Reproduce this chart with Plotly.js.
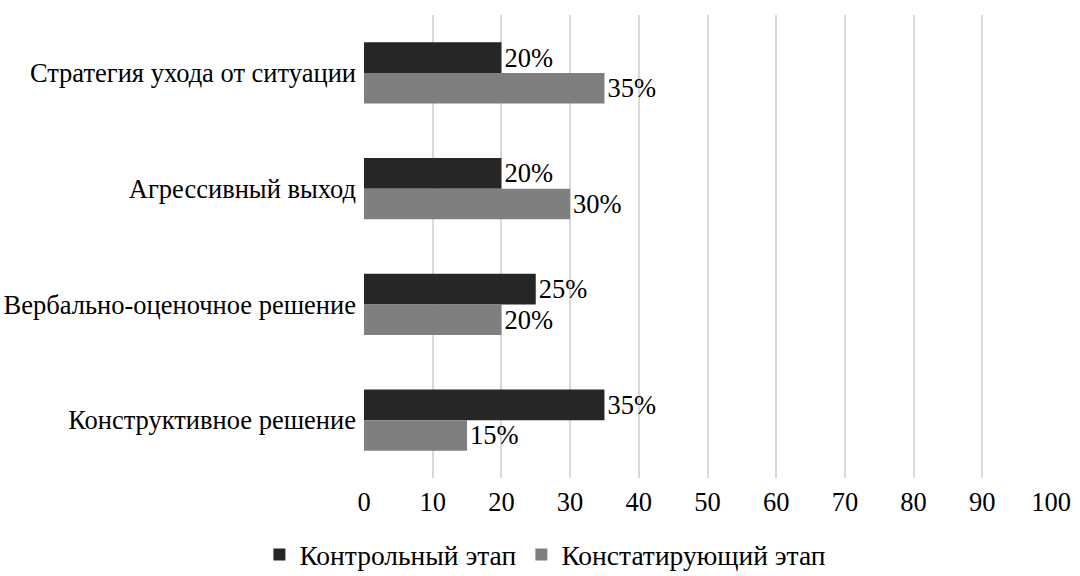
<!DOCTYPE html>
<html>
<head>
<meta charset="utf-8">
<script src="https://cdn.plot.ly/plotly-3.0.1.min.js"></script>
<style>html,body{margin:0;padding:0;background:#fff;}#chart{width:1080px;height:576px;}</style>
</head>
<body>
<div id="chart"></div>
<script>
const categories = ["Стратегия ухода от ситуации", "Агрессивный выход", "Вербально-оценочное решение", "Конструктивное решение"];
const seriesNames = ["Контрольный этап", "Констатирующий этап"];
const controlValues = [20, 20, 25, 35];
const statingValues = [35, 30, 20, 15];
const xTicks = [0, 10, 20, 30, 40, 50, 60, 70, 80, 90, 100];

function F(s) { return {family: "Liberation Serif", size: s || 26.5, color: "#000000"}; }

const traces = [
  {type: "bar", orientation: "h", name: seriesNames[0], y: categories, x: controlValues,
   marker: {color: "#262626"}, text: controlValues.map(v => v + "%"), textposition: "outside",
   textfont: F(), outsidetextfont: F(), cliponaxis: false, hoverinfo: "none"},
  {type: "bar", orientation: "h", name: seriesNames[1], y: categories, x: statingValues,
   marker: {color: "#7f7f7f"}, text: statingValues.map(v => v + "%"), textposition: "outside",
   textfont: F(), outsidetextfont: F(), cliponaxis: false, hoverinfo: "none"}
];

const layout = {
  width: 1080, height: 576,
  margin: {l: 364, r: 29, t: 15, b: 98, autoexpand: false},
  paper_bgcolor: "#fff", plot_bgcolor: "#fff",
  font: F(),
  barmode: "group", bargap: 0.47, bargroupgap: 0,
  xaxis: {range: [0, 100], tickvals: xTicks, ticktext: xTicks.map(String), showgrid: true,
          gridcolor: "#d9d9d9", gridwidth: 2, zeroline: false, showline: false, ticks: "",
          ticklabelstandoff: 5, tickfont: F(), fixedrange: true, automargin: false},
  yaxis: {type: "category", autorange: "reversed", showgrid: false, zeroline: false, showline: false,
          ticks: "", tickfont: F(), ticklabelstandoff: 7, fixedrange: true, automargin: false},
  legend: {orientation: "h", x: 0.505, xref: "container", xanchor: "center", y: 0.037, yref: "container", yanchor: "middle",
           font: F(27.5), traceorder: "normal", itemwidth: 30, tracegroupgap: 0},
  showlegend: true
};

Plotly.newPlot("chart", traces, layout, {staticPlot: true, displayModeBar: false});
</script>
</body>
</html>
